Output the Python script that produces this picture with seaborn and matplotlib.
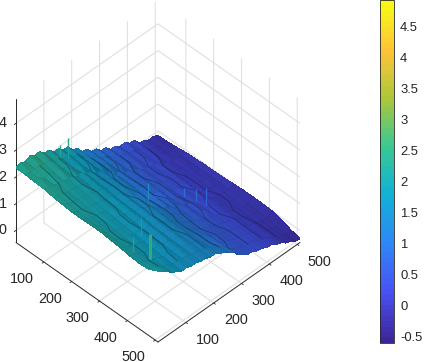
import numpy as np
import matplotlib
matplotlib.use("Agg")
import matplotlib.pyplot as plt
from matplotlib.colors import ListedColormap, Normalize
from matplotlib.cm import ScalarMappable
from mpl_toolkits.mplot3d import proj3d
import seaborn as sns

x_grid = [0, 34, 68, 102, 136, 170, 204, 238, 272, 306, 340, 374, 408, 442, 476, 510]
y_grid = [0, 17, 34, 51, 68, 85, 102, 119, 136, 153, 170, 187, 204, 221, 238, 255,
          272, 289, 306, 323, 340, 357, 374, 391, 408, 425, 442, 459, 476, 493, 510]
z_rows = [
 [2.33,2.40,2.32,2.42,2.31,2.32,2.14,2.13,1.94,1.94,1.76,1.76,1.51,1.46,1.20,1.17,0.96,0.94,0.74,0.74,0.54,0.54,0.40,0.44,0.28,0.26,0.04,0.01,-0.10,-0.09,-0.17],
 [2.33,2.30,2.30,2.30,2.24,2.24,2.10,2.08,1.90,1.90,1.74,1.72,1.50,1.44,1.20,1.16,0.96,0.92,0.74,0.72,0.55,0.52,0.40,0.40,0.28,0.24,0.05,0.00,-0.09,-0.10,-0.16],
 [2.30,2.30,2.20,2.23,2.16,2.18,2.04,2.04,1.84,1.86,1.68,1.69,1.47,1.43,1.22,1.16,0.94,0.92,0.72,0.72,0.54,0.52,0.38,0.38,0.26,0.24,0.04,0.02,-0.09,-0.08,-0.12],
 [2.28,2.24,2.18,2.12,2.10,2.04,2.03,1.90,1.90,1.72,1.70,1.50,1.47,1.26,1.20,0.98,0.96,0.76,0.74,0.58,0.56,0.42,0.40,0.30,0.28,0.08,0.06,-0.02,-0.02,-0.08,-0.08],
 [2.22,2.18,2.14,2.06,2.04,1.98,1.97,1.86,1.85,1.70,1.68,1.50,1.46,1.26,1.18,0.98,0.95,0.76,0.74,0.58,0.55,0.42,0.39,0.30,0.27,0.08,0.05,-0.02,-0.03,-0.08,-0.06],
 [2.18,2.12,2.07,2.02,1.99,1.93,1.92,1.82,1.80,1.68,1.66,1.49,1.45,1.26,1.16,0.98,0.94,0.76,0.72,0.58,0.54,0.42,0.38,0.30,0.26,0.08,0.04,-0.02,-0.04,-0.07,-0.04],
 [2.15,2.08,2.02,1.96,1.94,1.89,1.88,1.76,1.78,1.62,1.64,1.46,1.44,1.18,1.16,0.92,0.94,0.70,0.72,0.54,0.54,0.38,0.38,0.27,0.26,0.05,0.04,-0.04,-0.04,-0.08,-0.04],
 [2.15,2.05,1.98,1.92,1.90,1.84,1.85,1.74,1.75,1.60,1.62,1.45,1.42,1.18,1.14,0.92,0.92,0.70,0.70,0.54,0.52,0.38,0.37,0.27,0.25,0.05,0.03,-0.04,-0.05,-0.08,-0.03],
 [2.16,2.03,1.95,1.88,1.86,1.80,1.82,1.70,1.72,1.58,1.60,1.44,1.40,1.22,1.10,0.96,0.84,0.74,0.62,0.58,0.44,0.42,0.30,0.28,0.20,0.08,0.00,-0.03,-0.07,-0.09,0.00],
 [2.16,2.02,1.94,1.86,1.82,1.76,1.78,1.66,1.70,1.56,1.58,1.42,1.40,1.22,1.10,0.96,0.84,0.74,0.62,0.58,0.44,0.42,0.30,0.28,0.20,0.08,0.00,-0.04,-0.08,-0.10,0.02],
 [2.12,2.00,1.92,1.82,1.80,1.72,1.74,1.62,1.66,1.52,1.54,1.42,1.36,1.20,1.08,0.94,0.82,0.70,0.62,0.54,0.44,0.38,0.30,0.25,0.20,0.06,0.00,-0.06,-0.10,-0.12,0.02],
 [2.08,1.98,1.90,1.80,1.76,1.68,1.72,1.60,1.64,1.50,1.52,1.40,1.34,1.20,1.08,0.94,0.82,0.68,0.60,0.52,0.44,0.36,0.30,0.24,0.20,0.04,0.00,-0.08,-0.12,-0.14,0.02],
 [2.03,1.96,1.88,1.78,1.74,1.66,1.68,1.58,1.60,1.48,1.50,1.38,1.34,1.18,1.10,0.90,0.84,0.66,0.60,0.50,0.42,0.36,0.30,0.24,0.18,0.04,0.00,-0.10,-0.14,-0.18,0.00],
 [2.00,1.94,1.86,1.76,1.72,1.62,1.66,1.56,1.58,1.48,1.48,1.38,1.34,1.18,1.10,0.90,0.86,0.66,0.58,0.50,0.42,0.36,0.30,0.24,0.18,0.02,0.00,-0.10,-0.16,-0.22,-0.08],
 [2.02,2.00,1.90,1.76,1.70,1.60,1.60,1.54,1.52,1.46,1.44,1.36,1.32,1.22,1.12,1.00,0.90,0.68,0.56,0.48,0.40,0.36,0.30,0.24,0.18,0.08,0.00,-0.10,-0.18,-0.26,-0.22],
 [2.20,2.05,1.95,1.76,1.70,1.58,1.59,1.51,1.52,1.44,1.43,1.35,1.35,1.23,1.17,1.03,0.92,0.70,0.60,0.48,0.45,0.35,0.33,0.23,0.22,0.10,0.04,-0.10,-0.15,-0.28,-0.30],
]
crease_rows = [1, 2, 3, 4, 5, 6, 7, 8, 9, 10, 11, 12, 13, 14]
crease_cols = [
 [3, 3, 3, 2, 2, 2, 3, 3, 2, 2, 3, 3, 2, 2],
 [7, 7, 6, 6, 7, 7, 7, 6, 6, 7, 7, 7, 6, 6],
 [11, 11, 10, 10, 11, 11, 12, 12, 11, 11, 11, 12, 12, 12],
 [14, 14, 14, 13, 13, 14, 14, 15, 15, 14, 14, 15, 15, 15],
 [17, 17, 16, 16, 17, 17, 18, 18, 17, 17, 17, 18, 18, 17],
 [20, 20, 19, 19, 20, 20, 20, 21, 21, 20, 20, 21, 21, 21],
 [23, 23, 22, 22, 23, 23, 24, 24, 23, 23, 24, 24, 24, 24],
 [26, 26, 25, 25, 26, 26, 26, 27, 27, 26, 26, 27, 27, 27],
]
spike_x = [455, 400, 40, 30, 245, 360, 267, 289, 307]
spike_y = [25, 20, 145, 127, 229, 89, 337, 359, 377]
spike_base = [2.05, 1.95, 1.95, 2.05, 1.25, 1.75, 0.75, 0.55, 0.45]
spike_top = [3.0, 2.54, 2.67, 2.48, 1.88, 2.48, 1.09, 1.05, 1.09]
spike_width = [2.2, 1.0, 1.0, 1.0, 1.0, 0.8, 1.0, 1.0, 1.0]

xy_ticks = [100, 200, 300, 400, 500]
z_ticks = [0, 1, 2, 3, 4]
cbar_ticks = [-0.5, 0, 0.5, 1, 1.5, 2, 2.5, 3, 3.5, 4, 4.5]
cbar_labels = ['-0.5', '0', '0.5', '1', '1.5', '2', '2.5', '3', '3.5', '4', '4.5']
parula_anchors = ['#3e2698', '#4852f4', '#2e87f7', '#12b1d6', '#37c897', '#abc739',
                  '#fec338', '#f9fb14']

sns.set_theme(style='white')
plt.rcParams['font.family'] = ['Liberation Sans', 'DejaVu Sans']
plt.rcParams['axes.unicode_minus'] = False
INK = '#262626'

cmap = ListedColormap(sns.blend_palette(parula_anchors, n_colors=64))
norm = Normalize(-0.6, 4.92)

fig = plt.figure(figsize=(4.24, 3.62), dpi=100)
ax = fig.add_axes([0.0, 0.0, 0.8, 1.0], projection='3d', proj_type='ortho',
                  computed_zorder=False)
ax.view_init(elev=44.5, azim=-45)
ax.set_box_aspect((1, 1, 1))
ax.set_xlim(0, 510)
ax.set_ylim(0, 510)
ax.set_zlim(-0.45, 4.9)

X, Y = np.meshgrid(x_grid, y_grid, indexing='ij')
Z = np.array(z_rows)
# faces that step down towards larger y look dark, as in the black-edged dense mesh
drop = np.zeros_like(Z)
drop[:, :-1] = Z[:, :-1] - Z[:, 1:]
face_shade = np.clip(0.80 - 0.7 * drop, 0.55, 0.82)
faces = cmap(norm(Z))
faces[..., :3] *= face_shade[..., None]
ax.plot_surface(X, Y, Z, facecolors=faces, rstride=1, cstride=1, linewidth=0,
                antialiased=False, shade=False, zorder=3)
ax.plot_wireframe(X, Y, Z, rstride=1, cstride=1, color='black', linewidth=0.25, alpha=0.12, zorder=3.5)
for cols in crease_cols:
    ax.plot(X[crease_rows, cols], Y[crease_rows, cols], Z[crease_rows, cols],
            color='#0b1a2a', lw=0.5, alpha=0.55, zorder=3.6)
for sx, sy, sb, st, sw in zip(spike_x, spike_y, spike_base, spike_top, spike_width):
    col = np.array(cmap(norm(0.5 * (sb + st))))[:3] * 0.85
    ax.plot([sx, sx], [sy, sy], [sb, st], color=col, lw=sw, zorder=4, solid_capstyle='butt')

ax.set_xticks(xy_ticks)
ax.set_yticks(xy_ticks)
ax.set_zticks(z_ticks)
ax.tick_params(axis='both', labelsize=10.4, labelcolor=INK, pad=1)
ax.tick_params(axis='z', pad=-2)
ax.zaxis.set_ticks_position('lower')
for t in ax.get_xticklabels():
    t.set_ha('right')
    t.set_va('center')
for t in ax.get_yticklabels():
    t.set_ha('left')
    t.set_va('center')
for t in ax.get_zticklabels():
    t.set_va('center')
for axis in (ax.xaxis, ax.yaxis, ax.zaxis):
    axis.set_pane_color((1, 1, 1, 0))
    axis.pane.set_edgecolor((1, 1, 1, 0))
    axis.line.set_color(INK)
    axis.line.set_linewidth(0.7)
    axis._axinfo['grid'].update(color='#e0e0e0', linewidth=0.8)
    axis._axinfo['tick'].update(inward_factor=0.15, outward_factor=0.0, linewidth={True: 0.6, False: 0.4},
                                color=INK)
ax.grid(True)


def corner_px(px, py, pz):
    a, b, _ = proj3d.proj_transform(px, py, pz, ax.get_proj())
    return ax.transData.transform((a, b))


for _ in range(3):
    fig.canvas.draw()
    left = corner_px(0, 0, -0.45)
    right = corner_px(510, 510, -0.45)
    bottom = corner_px(510, 0, -0.45)
    scale = 284.0 / (right[0] - left[0])
    pos = ax.get_position()
    w, h = pos.width * scale, pos.height * scale
    cx = pos.x0 + pos.width / 2 + ((158 - (left[0] + right[0]) / 2) / 424) * scale
    cy = pos.y0 + pos.height / 2 + (((362 - 342) - bottom[1]) / 362) * scale
    ax.set_position([cx - w / 2, cy - h / 2, w, h])

cax = fig.add_axes([379.5 / 424, 1 - 342.6 / 362, 15 / 424, 342.6 / 362])
cb = fig.colorbar(ScalarMappable(norm=norm, cmap=cmap), cax=cax, ticks=cbar_ticks)
cb.set_ticklabels(cbar_labels)
cb.outline.set_edgecolor(INK)
cb.outline.set_linewidth(0.6)
cax.tick_params(axis='y', direction='in', length=2.2, width=0.5, color=INK, labelsize=9.4,
                labelcolor=INK, pad=4, right=True)

fig.savefig('out.png', dpi=100)
